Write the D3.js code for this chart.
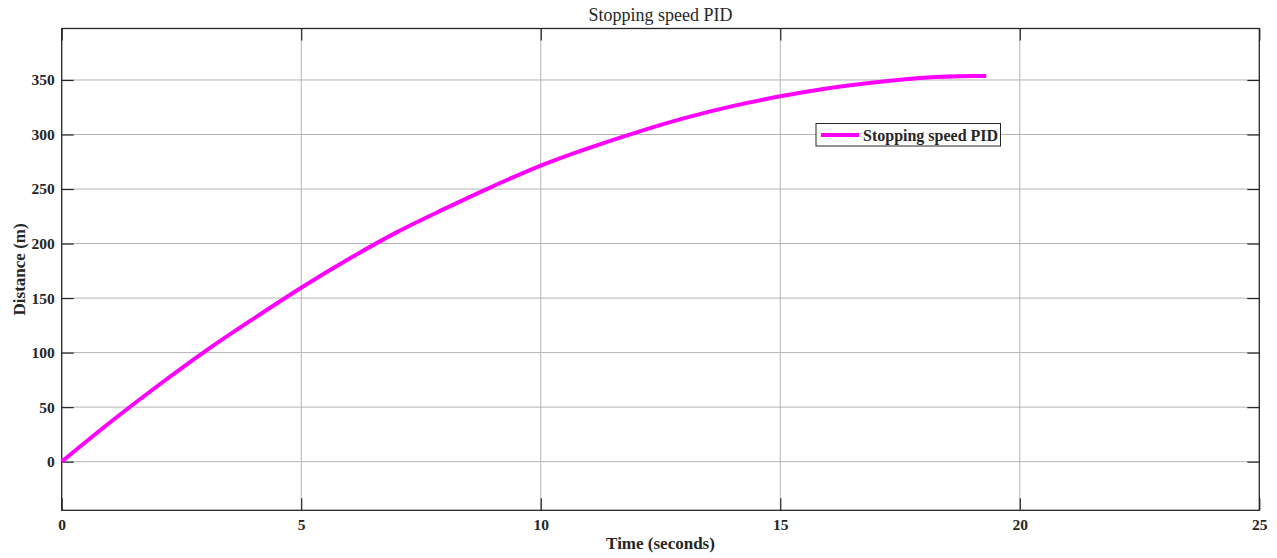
<!DOCTYPE html>
<html>
<head>
<meta charset="utf-8">
<script src="https://cdn.jsdelivr.net/npm/d3@7"></script>
<style>
  html, body { margin: 0; padding: 0; background: #fff; }
  svg { display: block; }
  text { font-family: "Liberation Serif", "Times New Roman", serif; fill: #262626; }
</style>
</head>
<body>
<svg id="chart" width="1277" height="558"></svg>
<script>
// Stopping distance over time for the PID braking controller
const timeSec = [0, 1, 2, 3, 4, 5, 6, 7, 8, 9, 10, 11, 12, 13, 14, 15, 16, 17, 18, 19, 19.3];
const distanceM = [0, 35.7, 69.4, 101.4, 131, 159.5, 186, 210.5, 232, 252.5, 271.5, 287.5, 302, 315, 326, 335, 342.5, 348, 352, 353.6, 353.7];

const xTicks = [0, 5, 10, 15, 20, 25];
const yTicks = [0, 50, 100, 150, 200, 250, 300, 350];

const chartTitle = "Stopping speed PID";
const xLabel = "Time (seconds)";
const yLabel = "Distance (m)";
const seriesName = "Stopping speed PID";

const svg = d3.select("#chart");
const plot = { left: 61.7, right: 1259.3, top: 28.5, bottom: 510.3 };

const x = d3.scaleLinear().domain([0, 25]).range([plot.left, plot.right]);
const y = d3.scaleLinear().domain([-44.6, 397.2]).range([plot.bottom, plot.top]);

// grid lines
const grid = svg.append("g").attr("stroke", "#b4b4b4").attr("stroke-width", 1);
grid.selectAll("line.gx").data(xTicks.slice(1, -1)).join("line")
  .attr("x1", d => x(d)).attr("x2", d => x(d))
  .attr("y1", plot.top).attr("y2", plot.bottom);
grid.selectAll("line.gy").data(yTicks).join("line")
  .attr("x1", plot.left).attr("x2", plot.right)
  .attr("y1", d => y(d)).attr("y2", d => y(d));

// axes with inward ticks on all four sides
const tickLen = 12;
const fmt = d3.format("d");
const axStyle = g => {
  g.selectAll(".domain").remove();
  g.selectAll(".tick line").attr("stroke", "#262626").attr("stroke-width", 1.2);
  g.selectAll(".tick text")
    .attr("font-family", "Liberation Serif, Times New Roman, serif")
    .attr("font-size", 15.5).attr("font-weight", "bold").attr("fill", "#262626");
};

svg.append("g").attr("transform", `translate(0,${plot.bottom})`)
  .call(d3.axisBottom(x).tickValues(xTicks).tickFormat(fmt).tickSizeInner(-tickLen).tickPadding(9))
  .call(axStyle);
svg.append("g").attr("transform", `translate(0,${plot.top})`)
  .call(d3.axisTop(x).tickValues(xTicks).tickFormat("").tickSizeInner(-tickLen))
  .call(axStyle);
svg.append("g").attr("transform", `translate(${plot.left},0)`)
  .call(d3.axisLeft(y).tickValues(yTicks).tickFormat(fmt).tickSizeInner(-tickLen).tickPadding(7))
  .call(axStyle);
svg.append("g").attr("transform", `translate(${plot.right},0)`)
  .call(d3.axisRight(y).tickValues(yTicks).tickFormat("").tickSizeInner(-tickLen))
  .call(axStyle);

// plot box
svg.append("rect")
  .attr("x", plot.left).attr("y", plot.top)
  .attr("width", plot.right - plot.left).attr("height", plot.bottom - plot.top)
  .attr("fill", "none").attr("stroke", "#262626").attr("stroke-width", 1.3);

// data line
const line = d3.line().x((d, i) => x(timeSec[i])).y(d => y(d)).curve(d3.curveMonotoneX);
svg.append("path")
  .datum(distanceM)
  .attr("d", line)
  .attr("fill", "none")
  .attr("stroke", "#ff00ff")
  .attr("stroke-width", 4);

// title and axis labels
svg.append("text").attr("x", (plot.left + plot.right) / 2).attr("y", 20.5)
  .attr("text-anchor", "middle").attr("font-size", 18).attr("fill", "#000").text(chartTitle);
svg.append("text").attr("x", (plot.left + plot.right) / 2).attr("y", 549)
  .attr("text-anchor", "middle").attr("font-size", 17).attr("font-weight", "bold").text(xLabel);
svg.append("text")
  .attr("transform", `translate(25,${(plot.top + plot.bottom) / 2}) rotate(-90)`)
  .attr("text-anchor", "middle").attr("font-size", 17).attr("font-weight", "bold").text(yLabel);

// legend
const lg = svg.append("g").attr("transform", "translate(816,123.5)");
lg.append("rect").attr("width", 184.5).attr("height", 22.5)
  .attr("fill", "#fff").attr("stroke", "#262626").attr("stroke-width", 1);
lg.append("line").attr("x1", 5).attr("x2", 43).attr("y1", 11.5).attr("y2", 11.5)
  .attr("stroke", "#ff00ff").attr("stroke-width", 4);
lg.append("text").attr("x", 47).attr("y", 17).attr("font-size", 16)
  .attr("font-weight", "bold").attr("fill", "#000").text(seriesName);
</script>
</body>
</html>
